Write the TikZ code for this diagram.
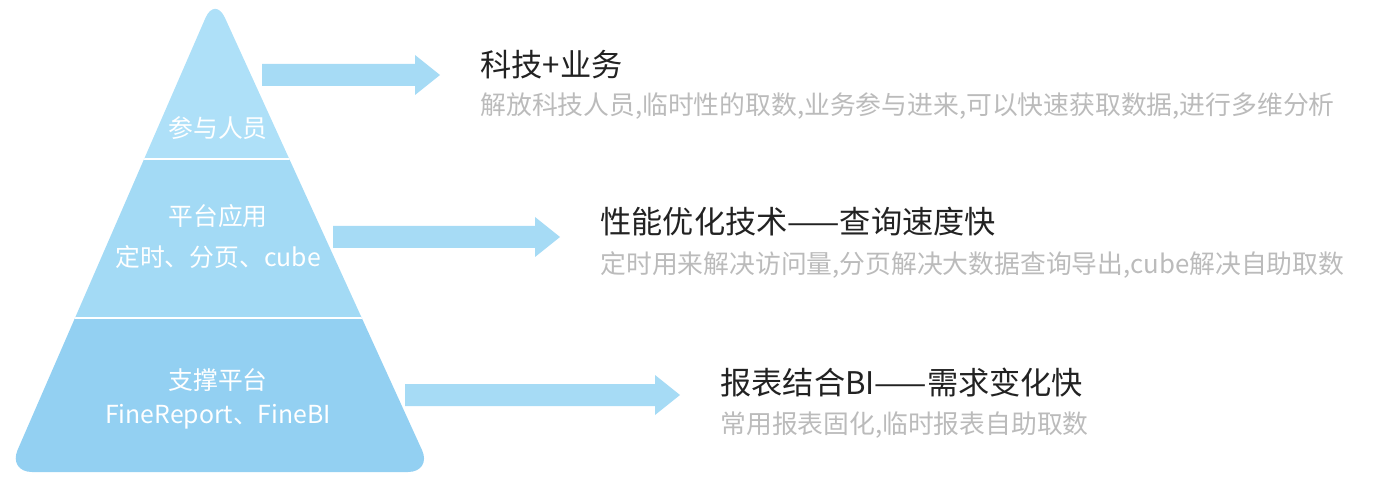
\documentclass[tikz,border=0pt]{standalone}
\usepackage{fontspec}
\setmainfont{Noto Sans CJK SC}
\definecolor{topc}{HTML}{AEE0F8}
\definecolor{midc}{HTML}{A3DAF5}
\definecolor{botc}{HTML}{93D0F2}
\definecolor{arrc}{HTML}{A6DBF5}
\definecolor{ttl}{HTML}{222222}
\definecolor{sub}{HTML}{BBBBBB}
\tikzset{
 ttlt/.style={anchor=west,text=ttl,font=\fontsize{15.6}{18}\selectfont,inner sep=0},
 subt/.style={anchor=west,text=sub,font=\fontsize{12.9}{15}\selectfont,inner sep=0},
 pyrt/.style={text=white,font=\fontsize{12.4}{14}\selectfont,inner sep=0},
}
\newcommand{\myarrow}[3]{% x1, x2, y
 \fill[arrc] (#1,#3-11) -- (#2-25,#3-11) -- (#2-25,#3-20) -- (#2,#3) -- (#2-25,#3+20) -- (#2-25,#3+11) -- (#1,#3+11) -- cycle;}
\begin{document}
\begin{tikzpicture}[x=0.5pt,y=-0.5pt]
\useasboundingbox (0,0) rectangle (1400,480);
\begin{scope}
\clip[rounded corners=12] (215,-4) -- (432,472) -- (8,472) -- cycle;
\fill[topc] (0,-10) rectangle (440,159);
\fill[midc] (0,159) rectangle (440,318);
\fill[botc] (0,318) rectangle (440,480);
\draw[white,line width=1.2] (0,159) -- (440,159);
\draw[white,line width=1.2] (0,318) -- (440,318);
\end{scope}
\myarrow{262}{440}{75}
\myarrow{333}{560}{237}
\myarrow{405}{680}{395}
\node[pyrt] (p1) at (218,128) {参与人员};
\node[pyrt] (p2) at (218,216) {平台应用};
\node[pyrt] (p2b) at (218,257) {定时、分页、cube};
\node[pyrt] (p3) at (218,380) {支撑平台};
\node[pyrt] (p3b) at (218,417) {FineReport、FineBI};
\node[ttlt] (t1) at (480,65) {科技+业务};
\node[subt] (s1) at (480,106) {解放科技人员,临时性的取数,业务参与进来,可以快速获取数据,进行多维分析};
\node[ttlt] (t2) at (600,222) {性能优化技术——查询速度快};
\node[subt] (s2) at (600,265) {定时用来解决访问量,分页解决大数据查询导出,cube解决自助取数};
\node[ttlt] (t3) at (720,383) {报表结合BI——需求变化快};
\node[subt] (s3) at (720,425) {常用报表固化,临时报表自助取数};
\end{tikzpicture}
\end{document}
